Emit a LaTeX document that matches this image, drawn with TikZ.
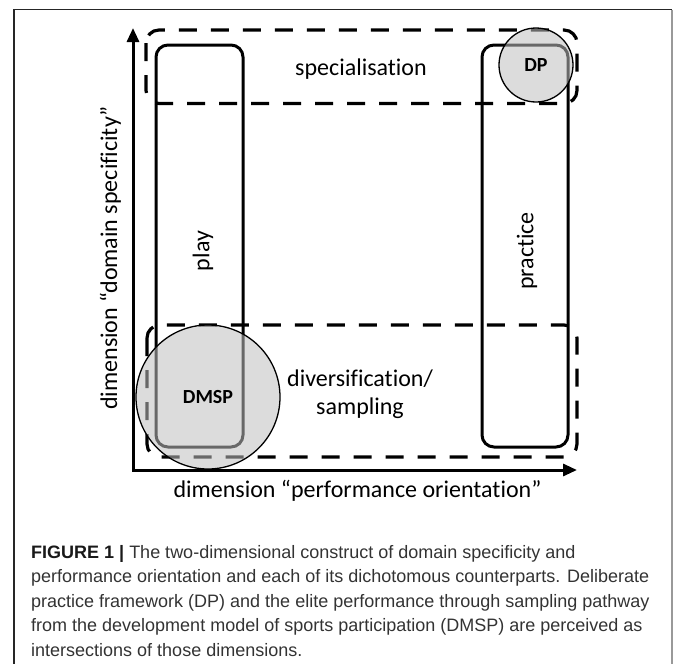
\documentclass[tikz,border=0pt]{standalone}
\usepackage{fontspec}
\setmainfont[Ligatures=NoCommon]{Carlito}
\newfontfamily\capfont{Liberation Sans}
\usetikzlibrary{arrows.meta}

\tikzset{
  dimbox/.style={line width=3.2pt, dash pattern=on 18pt off 14pt, rounded corners=13pt},
  pathbox/.style={line width=3pt, rounded corners=12pt},
  axis/.style={line width=3pt, line cap=rect, -{Triangle[length=14pt,width=12pt]}},
  overlap/.style={circle, draw=black, line width=1.3pt, fill=black!25, fill opacity=0.55,
    text opacity=1, inner sep=0pt, font=\fontsize{20}{24}\selectfont\bfseries},
  lbl/.style={font=\fontsize{24}{28}\selectfont, inner sep=0pt}
}

\begin{document}
\begin{tikzpicture}[x=1pt, y=-1pt]
  \useasboundingbox (0,0) rectangle (673,664);

  % frame
  \draw [line width=1.2pt, black!85] (14,664) -- (14,9.5) -- (672,9.5);
  \draw [line width=1.2pt, black!40] (672,9.5) -- (672,664);

  % the two dimensions
  \draw [dimbox] (146,30) rectangle (577,103.5);
  \draw [dimbox] (147,325) rectangle (577,457);

  % play and practice
  \draw [pathbox] (156,45) rectangle (243,447);
  \draw [pathbox] (482,45) rectangle (568,447);

  % axes
  \coordinate (origin) at (133,470);
  \coordinate (ytip) at (133,28);
  \coordinate (xtip) at (577,470);
  \draw [axis] (origin) -- (ytip);
  \draw [axis] (origin) -- (xtip);

  \node [lbl, anchor=base] (spec) at (361,75) {specialisation};
  \node [lbl, align=center] (div) at (360,394.5) {diversification/\\sampling};
  \node [lbl, rotate=90] (play) at (203,251) {play};
  \node [lbl, rotate=90] (prac) at (527,251) {practice};

  % intersections
  \node [overlap, minimum size=144pt] (dmsp) at (208,397) {DMSP};
  \node [overlap, minimum size=74pt] (dp) at (536,65) {DP};

  \node [lbl, rotate=90, anchor=base] (ylab) at (117,258) {dimension “domain specificity”};
  \node [lbl, anchor=base] (xlab) at (357.5,497) {dimension “performance orientation”};

  \node [anchor=north west, align=left, inner sep=0pt, text=black!80,
    font=\capfont\fontsize{18}{24.5}\selectfont] (caption) at (31,545)
    {{\bfseries\color{black!90}FIGURE 1 |} The two-dimensional construct of domain specificity and\\
     performance orientation and each of its dichotomous counterparts. Deliberate\\
     practice framework (DP) and the elite performance through sampling pathway\\
     from the development model of sports participation (DMSP) are perceived as\\
     intersections of those dimensions.};
\end{tikzpicture}
\end{document}
